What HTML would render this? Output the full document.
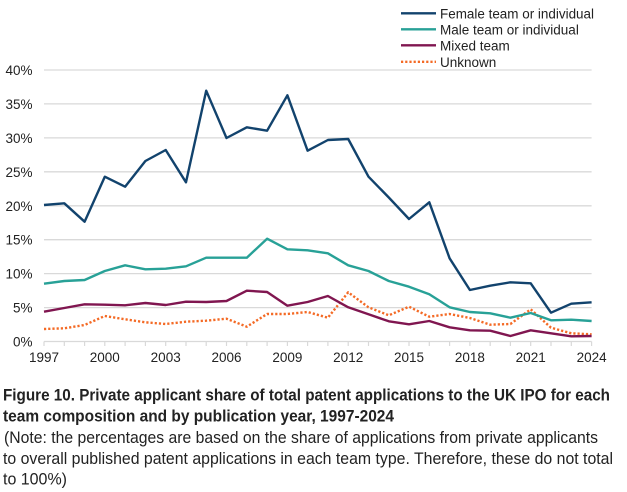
<!DOCTYPE html>
<html><head><meta charset="utf-8"><style>
html,body{margin:0;padding:0;background:#fff;}
svg{display:block;}
text{font-family:"Liberation Sans",Arial,sans-serif;fill:#222;}
</style></head><body>
<svg width="627" height="492" viewBox="0 0 627 492" xmlns="http://www.w3.org/2000/svg">
<rect width="627" height="492" fill="#fff"/>
<g stroke="#d9d9d9" stroke-width="1.3">
<line x1="44" y1="70" x2="591.6" y2="70"/>
<line x1="44" y1="103.9" x2="591.6" y2="103.9"/>
<line x1="44" y1="137.9" x2="591.6" y2="137.9"/>
<line x1="44" y1="171.8" x2="591.6" y2="171.8"/>
<line x1="44" y1="205.8" x2="591.6" y2="205.8"/>
<line x1="44" y1="239.7" x2="591.6" y2="239.7"/>
<line x1="44" y1="273.6" x2="591.6" y2="273.6"/>
<line x1="44" y1="307.6" x2="591.6" y2="307.6"/>
<line x1="44" y1="341.5" x2="591.6" y2="341.5"/>
</g>
<g stroke="#d9d9d9" stroke-width="1.2">
<line x1="44" y1="341.5" x2="44" y2="346"/><line x1="64.3" y1="341.5" x2="64.3" y2="346"/><line x1="84.6" y1="341.5" x2="84.6" y2="346"/><line x1="104.8" y1="341.5" x2="104.8" y2="346"/><line x1="125.1" y1="341.5" x2="125.1" y2="346"/><line x1="145.4" y1="341.5" x2="145.4" y2="346"/><line x1="165.7" y1="341.5" x2="165.7" y2="346"/><line x1="186" y1="341.5" x2="186" y2="346"/><line x1="206.2" y1="341.5" x2="206.2" y2="346"/><line x1="226.5" y1="341.5" x2="226.5" y2="346"/><line x1="246.8" y1="341.5" x2="246.8" y2="346"/><line x1="267.1" y1="341.5" x2="267.1" y2="346"/><line x1="287.4" y1="341.5" x2="287.4" y2="346"/><line x1="307.6" y1="341.5" x2="307.6" y2="346"/><line x1="327.9" y1="341.5" x2="327.9" y2="346"/><line x1="348.2" y1="341.5" x2="348.2" y2="346"/><line x1="368.5" y1="341.5" x2="368.5" y2="346"/><line x1="388.8" y1="341.5" x2="388.8" y2="346"/><line x1="409" y1="341.5" x2="409" y2="346"/><line x1="429.3" y1="341.5" x2="429.3" y2="346"/><line x1="449.6" y1="341.5" x2="449.6" y2="346"/><line x1="469.9" y1="341.5" x2="469.9" y2="346"/><line x1="490.2" y1="341.5" x2="490.2" y2="346"/><line x1="510.4" y1="341.5" x2="510.4" y2="346"/><line x1="530.7" y1="341.5" x2="530.7" y2="346"/><line x1="551" y1="341.5" x2="551" y2="346"/><line x1="571.3" y1="341.5" x2="571.3" y2="346"/><line x1="591.6" y1="341.5" x2="591.6" y2="346"/>
</g>
<g font-size="13.5" text-anchor="end">
<text x="32.5" y="75">40%</text>
<text x="32.5" y="108.9">35%</text>
<text x="32.5" y="142.9">30%</text>
<text x="32.5" y="176.8">25%</text>
<text x="32.5" y="210.8">20%</text>
<text x="32.5" y="244.7">15%</text>
<text x="32.5" y="278.6">10%</text>
<text x="32.5" y="312.6">5%</text>
<text x="32.5" y="346.5">0%</text>
</g>
<g font-size="13.5" text-anchor="middle">
<text x="44" y="362">1997</text>
<text x="104.8" y="362">2000</text>
<text x="165.7" y="362">2003</text>
<text x="226.5" y="362">2006</text>
<text x="287.4" y="362">2009</text>
<text x="348.2" y="362">2012</text>
<text x="409" y="362">2015</text>
<text x="469.9" y="362">2018</text>
<text x="530.7" y="362">2021</text>
<text x="591.6" y="362">2024</text>
</g>
<g fill="none" stroke-width="2.4" stroke-linejoin="round">
<polyline stroke="#F46A25" stroke-dasharray="2.2 2" points="44,329 64.3,328.3 84.6,325 104.8,316 125.1,319.3 145.4,322.3 165.7,324 186,321.7 206.2,320.7 226.5,318.7 246.8,326.7 267.1,314 287.4,314 307.6,312 327.9,317.7 348.2,292.3 368.5,307.3 388.8,315.3 409,306.7 429.3,316.7 449.6,314 469.9,318 490.2,324.7 510.4,324 530.7,309.3 551,327.7 571.3,333.3 591.6,334.3"/>
<polyline stroke="#801650" points="44,311.7 64.3,308 84.6,304.3 104.8,304.7 125.1,305.3 145.4,303 165.7,305 186,301.7 206.2,302 226.5,301 246.8,290.7 267.1,292 287.4,305.7 307.6,302 327.9,296 348.2,307.3 368.5,314.3 388.8,321.3 409,324.3 429.3,321 449.6,327.3 469.9,330.3 490.2,330.7 510.4,336 530.7,330.3 551,333.3 571.3,336.3 591.6,336"/>
<polyline stroke="#28A197" points="44,283.7 64.3,281 84.6,280 104.8,271 125.1,265.3 145.4,269.3 165.7,268.7 186,266.3 206.2,257.7 226.5,257.7 246.8,257.7 267.1,238.7 287.4,249.3 307.6,250.3 327.9,253.3 348.2,265.3 368.5,271 388.8,281 409,286.7 429.3,294.3 449.6,307.3 469.9,312 490.2,313.3 510.4,317.7 530.7,313 551,320.3 571.3,319.7 591.6,321"/>
<polyline stroke="#12436D" points="44,205 64.3,203.3 84.6,221.7 104.8,176.7 125.1,186.7 145.4,161 165.7,150 186,182.3 206.2,90.7 226.5,138 246.8,127.3 267.1,130.7 287.4,95.3 307.6,150.7 327.9,140 348.2,139 368.5,176.7 388.8,197.5 409,219 429.3,202.3 449.6,258.3 469.9,290 490.2,285.7 510.4,282.3 530.7,283.3 551,312.7 571.3,303.7 591.6,302.3"/>
</g>
<g stroke-width="2.4">
<line x1="401" y1="13.3" x2="436" y2="13.3" stroke="#12436D"/>
<line x1="401" y1="29.3" x2="436" y2="29.3" stroke="#28A197"/>
<line x1="401" y1="45.3" x2="436" y2="45.3" stroke="#801650"/>
<line x1="401" y1="61.8" x2="436" y2="61.8" stroke="#F46A25" stroke-dasharray="2.2 2"/>
</g>
<g font-size="13.5">
<text x="440" y="18.3" textLength="154" lengthAdjust="spacingAndGlyphs">Female team or individual</text>
<text x="440" y="34.3">Male team or individual</text>
<text x="440" y="50.3">Mixed team</text>
<text x="440" y="66.8">Unknown</text>
</g>
<g font-size="16.5" fill="#0b0c0c">
<text x="3" y="400.5" font-weight="bold" textLength="607" lengthAdjust="spacingAndGlyphs">Figure 10. Private applicant share of total patent applications to the UK IPO for each</text>
<text x="3" y="421.5" font-weight="bold" textLength="391" lengthAdjust="spacingAndGlyphs">team composition and by publication year, 1997-2024</text>
<text x="4" y="443" textLength="594" lengthAdjust="spacingAndGlyphs">(Note: the percentages are based on the share of applications from private applicants</text>
<text x="3" y="464" textLength="610" lengthAdjust="spacingAndGlyphs">to overall published patent applications in each team type. Therefore, these do not total</text>
<text x="3" y="484.5" textLength="64" lengthAdjust="spacingAndGlyphs">to 100%)</text>
</g>
</svg>
</body></html>
